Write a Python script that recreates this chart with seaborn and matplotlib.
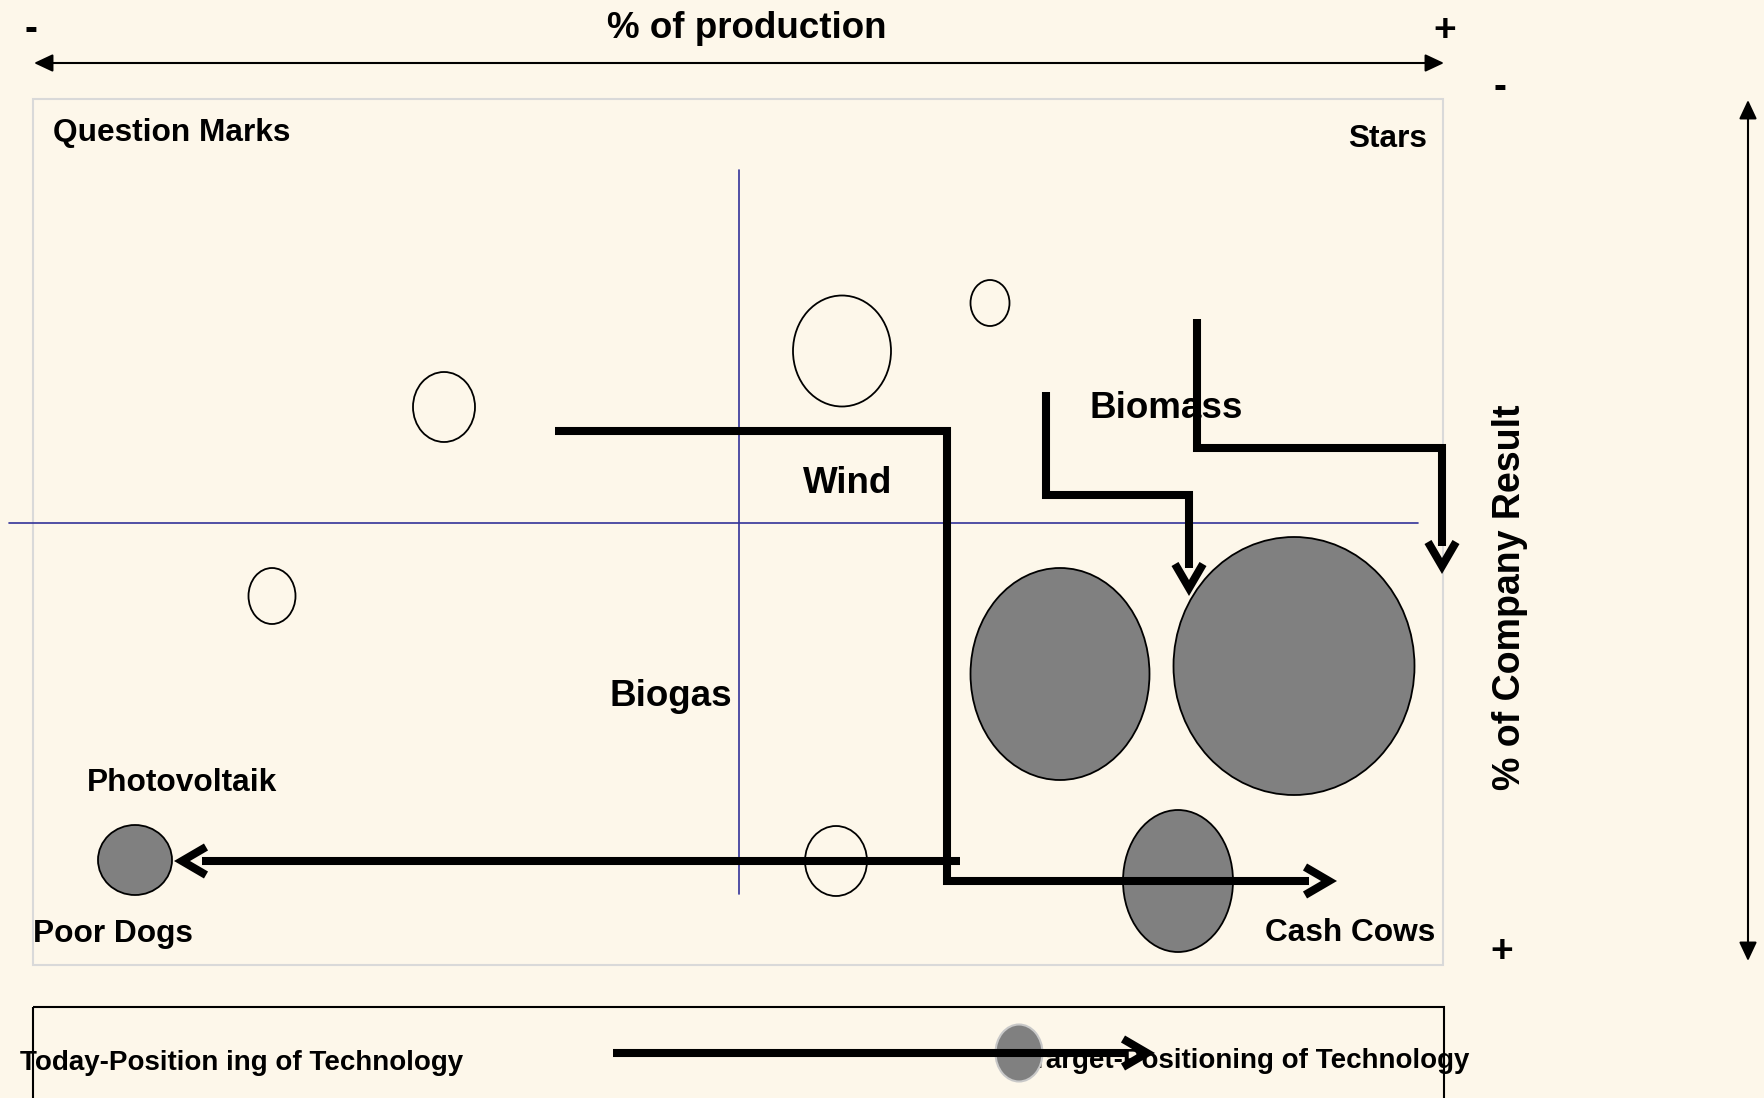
import numpy as np
import matplotlib
matplotlib.use('Agg')
import matplotlib.pyplot as plt
from matplotlib.patches import Ellipse, Rectangle
import seaborn as sns

# canvas grid is the picture itself: x to the right, y downward (pixels)
W, H = 1764, 1098

# bubbles: centre, width and height, and which position they mark
bubble_x = [444, 272, 842, 990, 836, 135, 1060, 1294, 1178]
bubble_y = [407, 596, 351, 303, 861, 860, 674, 666, 881]
bubble_w = [62, 47, 98, 39, 62, 74, 179, 241, 110]
bubble_h = [70, 56, 111, 46, 70, 70, 212, 258, 142]
bubble_kind = ['today', 'today', 'today', 'today', 'today',
               'target', 'target', 'target', 'target']

# moves from today's to target position (polyline + chevron tip)
move1_x = [555, 947, 947, 1309]
move1_y = [431, 431, 881, 881]
move1_tip = (1338, 881)
move2_x = [960, 202]
move2_y = [861, 861]
move2_tip = (173, 861)
move3_x = [1046, 1046, 1189, 1189]
move3_y = [392, 495, 495, 568]
move3_tip = (1189, 597)
move4_x = [1197, 1197, 1442, 1442]
move4_y = [319, 448, 448, 546]
move4_tip = (1442, 575)

# quadrant split
split_x = 739
split_y = 523

quadrant_labels = ['Question Marks', 'Stars', 'Poor Dogs', 'Cash Cows']
tech_labels = ['Photovoltaik', 'Biogas', 'Wind', 'Biomass']
legend_labels = ['Today-Position ing of Technology', 'Target-Positioning of Technology']

BG = '#fdf7ea'
BLUE = '#333399'
GREY = '#808080'

sns.set_theme(style='white', rc={'axes.facecolor': BG, 'figure.facecolor': BG})
plt.rcParams['font.family'] = ['Liberation Sans', 'DejaVu Sans']

fig = plt.figure(figsize=(W / 100, H / 100), dpi=100)
ax = fig.add_axes([0, 0, 1, 1])

LW = 5.8
line_kw = dict(sort=False, estimator=None, color='black', lw=LW,
               solid_joinstyle='miter', solid_capstyle='butt', ax=ax)


def draw_move(xs, ys, tip, z):
    sns.lineplot(x=xs, y=ys, zorder=z, **line_kw)
    # open chevron at the tip, the stem stops short of it
    u = np.array([tip[0] - xs[-1], tip[1] - ys[-1]], dtype=float)
    u /= np.hypot(*u)
    p = np.array([-u[1], u[0]])
    t = np.array(tip, dtype=float)
    v = t - 9 * u
    a1 = t - 33 * u + 14 * p
    a2 = t - 33 * u - 14 * p
    sns.lineplot(x=[a1[0], v[0], a2[0]], y=[a1[1], v[1], a2[1]], zorder=z, **line_kw)


# matrix frame
ax.add_patch(Rectangle((33, 99), 1410, 866, fill=False, ec='#d9d9d9', lw=1.5, zorder=0.5))

# quadrant lines
sns.lineplot(x=[split_x, split_x], y=[170, 894], color=BLUE, lw=1.2, estimator=None,
             sort=False, zorder=1, ax=ax)
sns.lineplot(x=[9, 1418], y=[split_y, split_y], color=BLUE, lw=1.2, estimator=None,
             sort=False, zorder=1, ax=ax)

# moves behind the bubbles / in front of them
draw_move(move3_x, move3_y, move3_tip, 2)
draw_move(move4_x, move4_y, move4_tip, 2)
draw_move(move1_x, move1_y, move1_tip, 4)
draw_move(move2_x, move2_y, move2_tip, 4)

for x, y, w, h, k in zip(bubble_x, bubble_y, bubble_w, bubble_h, bubble_kind):
    if k == 'target':
        ax.add_patch(Ellipse((x, y), w, h, fc=GREY, ec='black', lw=1.3, zorder=3))
    else:
        ax.add_patch(Ellipse((x, y), w, h, fill=False, ec='black', lw=1.3, zorder=3))

bold = dict(fontweight='bold', color='black')

# axis captions
ax.text(747, 38, '% of production', fontsize=26.5, ha='center', va='baseline', **bold)
ax.text(30.5, 40, '-', fontsize=28, ha='center', va='baseline', **bold)
ax.text(1445, 41.5, '+', fontsize=28, ha='center', va='baseline', **bold)
ax.annotate('', xy=(1444, 63), xytext=(34, 63),
            arrowprops=dict(arrowstyle='<|-|>,head_length=11.5,head_width=5.4',
                            lw=1.5, color='black', shrinkA=0, shrinkB=0, mutation_scale=1))

ax.text(1520, 597, '% of Company Result', fontsize=27, rotation=90, rotation_mode='anchor',
        ha='center', va='baseline', **bold)
ax.text(1500, 98, '-', fontsize=28, ha='center', va='baseline', **bold)
ax.text(1502, 962, '+', fontsize=28, ha='center', va='baseline', **bold)
ax.annotate('', xy=(1748, 100), xytext=(1748, 961),
            arrowprops=dict(arrowstyle='<|-|>,head_length=11.5,head_width=5.4',
                            lw=1.5, color='black', shrinkA=0, shrinkB=0, mutation_scale=1))

# quadrant names
ax.text(53, 141, quadrant_labels[0], fontsize=22.8, ha='left', va='baseline', **bold)
ax.text(1427, 147, quadrant_labels[1], fontsize=22.8, ha='right', va='baseline', **bold)
ax.text(33, 942, quadrant_labels[2], fontsize=22.8, ha='left', va='baseline', **bold)
ax.text(1435, 941, quadrant_labels[3], fontsize=22.8, ha='right', va='baseline', **bold)

# technologies
ax.text(87, 791, tech_labels[0], fontsize=22.8, ha='left', va='baseline', zorder=5, **bold)
ax.text(610, 706, tech_labels[1], fontsize=26.5, ha='left', va='baseline', zorder=5, **bold)
ax.text(803, 493, tech_labels[2], fontsize=26.5, ha='left', va='baseline', zorder=5, **bold)
ax.text(1089, 418, tech_labels[3], fontsize=26.5, ha='left', va='baseline', zorder=1.5, **bold)

# legend
ax.add_patch(Rectangle((33, 1007), 1411, 150, fill=False, ec='black', lw=1.5, zorder=1))
ax.text(20, 1070, legend_labels[0], fontsize=20, ha='left', va='baseline', zorder=2, **bold)
ax.text(1469, 1068, legend_labels[1], fontsize=20, ha='right', va='baseline', zorder=2, **bold)
ax.add_patch(Ellipse((1019, 1053), 47, 57, fc=GREY, ec='#c8c8c8', lw=1.5, zorder=3))
draw_move([613, 1127], [1053, 1053], (1156, 1053), 4)

ax.set_xlim(0, W)
ax.set_ylim(H, 0)
ax.axis('off')

fig.savefig('out.png', dpi=100, facecolor=BG)
